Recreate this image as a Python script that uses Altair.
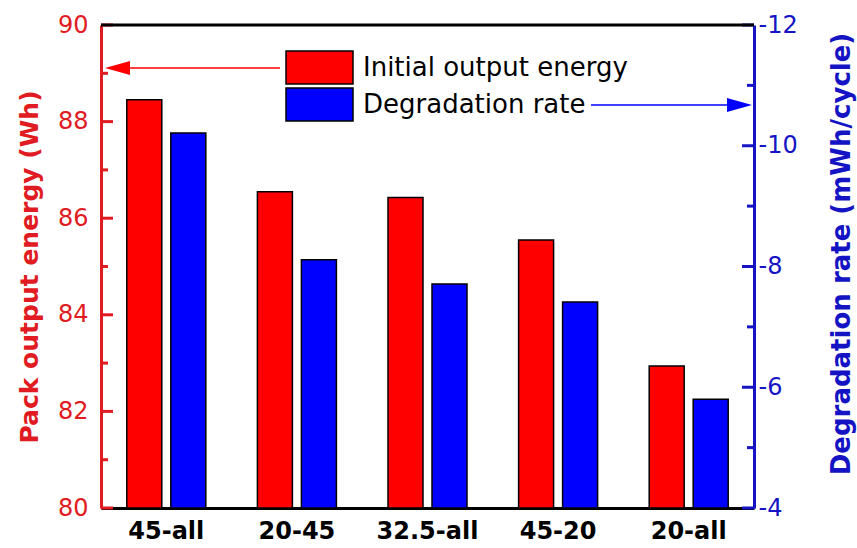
import altair as alt
import pandas as pd

# Test protocols and their measured values
categories = ["45-all", "20-45", "32.5-all", "45-20", "20-all"]
initial_energy = [88.45, 86.55, 86.43, 85.55, 82.94]      # Wh
degradation_rate = [-10.21, -8.11, -7.71, -7.41, -5.80]   # mWh/cycle

series_names = ["Initial output energy", "Degradation rate"]

# Axis tick positions (major ticks are labelled, minor ticks are not)
left_major = [80, 82, 84, 86, 88, 90]
left_minor = [81, 83, 85, 87, 89]
right_major = [-12, -10, -8, -6, -4]
right_minor = [-11, -9, -7, -5]

# Where the two axis-pointing arrows sit, in each axis' own units
red_arrow_level = 89.11
blue_arrow_level = -10.675

W, H = 653, 483
RED = "#FF0000"
BLUE = "#0000FF"
RED_AXIS = "#E01B22"
BLUE_AXIS = "#1414C4"
FONT = "DejaVu Sans"

df = pd.DataFrame({"protocol": categories, "energy": initial_energy, "rate": degradation_rate})

x_enc = alt.X(
    "protocol:N",
    sort=categories,
    scale=alt.Scale(paddingInner=0, paddingOuter=0),
    axis=alt.Axis(
        title=None, labelAngle=0, ticks=False, tickSize=0, labelPadding=11,
        labelFont=FONT, labelFontWeight="bold", labelFontSize=24, labelColor="black",
        domainColor="black", domainWidth=3, grid=False,
    ),
)


def red_scale():
    return alt.Scale(domain=[80, 90], zero=False, nice=False)


def blue_scale():
    return alt.Scale(domain=[-12, -4], reverse=True, zero=False, nice=False)


# ---- bars with their two value axes -------------------------------------
red_bars = alt.Chart(df).mark_bar(
    width=35, xOffset=-22, color=RED, stroke="black", strokeWidth=1.5
).encode(
    x=x_enc,
    y=alt.Y(
        "energy:Q", scale=red_scale(),
        axis=alt.Axis(
            orient="left", title="Pack output energy (Wh)", values=left_major, grid=False,
            ticks=False, tickSize=0, labelPadding=13,
            labelFont=FONT, labelFontSize=24, labelColor=RED_AXIS,
            domainColor=RED_AXIS, domainWidth=3,
            titleFont=FONT, titleFontSize=25, titleFontWeight="bold", titleColor=RED_AXIS,
            titleAngle=270, titleAlign="center", titleBaseline="middle",
            titleX=-72, titleY=H / 2,
        ),
    ),
    y2=alt.datum(80),
)

blue_bars = alt.Chart(df).mark_bar(
    width=35, xOffset=22, color=BLUE, stroke="black", strokeWidth=1.5
).encode(
    x=x_enc,
    y=alt.Y(
        "rate:Q", scale=blue_scale(),
        axis=alt.Axis(
            orient="right", title="Degradation rate (mWh/cycle)", values=right_major,
            labelExpr="datum.value + ''", grid=False,
            ticks=False, tickSize=0, labelPadding=4,
            labelFont=FONT, labelFontSize=24, labelColor=BLUE_AXIS,
            domainColor=BLUE_AXIS, domainWidth=3,
            titleFont=FONT, titleFontSize=26, titleFontWeight="bold", titleColor=BLUE_AXIS,
            titleAngle=270, titleAlign="center", titleBaseline="middle",
            titleX=87, titleY=H / 2 - 13,
        ),
    ),
    y2=alt.datum(-4),
)

# ---- inward ticks ---------------------------------------------------------
def tick_layer(values, scale, color, x_from, x_to):
    return alt.Chart(pd.DataFrame({"v": values})).mark_rule(
        color=color, strokeWidth=3
    ).encode(y=alt.Y("v:Q", scale=scale, axis=None), x=alt.value(x_from), x2=alt.value(x_to))


left_ticks_major = tick_layer(left_major, red_scale(), RED_AXIS, 0, 12)
left_ticks_minor = tick_layer(left_minor, red_scale(), RED_AXIS, 0, 7)
right_ticks_major = tick_layer(right_major, blue_scale(), BLUE_AXIS, W - 12, W)
right_ticks_minor = tick_layer(right_minor, blue_scale(), BLUE_AXIS, W - 7, W)

# ---- arrows pointing each series to its axis ------------------------------
one = alt.Chart(pd.DataFrame({"k": [0]}))

red_arrow_line = one.mark_rule(color=RED, strokeWidth=1.5).encode(
    x=alt.value(29), x2=alt.value(179),
    y=alt.YDatum(red_arrow_level, scale=red_scale(), axis=None),
)
red_arrow_head = one.mark_point(
    shape="M-1,0L1,-0.56L1,0.56Z", size=625, filled=True, color=RED, opacity=1, strokeWidth=0
).encode(x=alt.value(16.5), y=alt.YDatum(red_arrow_level, scale=red_scale(), axis=None))

blue_arrow_line = one.mark_rule(color=BLUE, strokeWidth=1.5).encode(
    x=alt.value(490), x2=alt.value(626),
    y=alt.YDatum(blue_arrow_level, scale=blue_scale(), axis=None),
)
blue_arrow_head = one.mark_point(
    shape="M1,0L-1,-0.56L-1,0.56Z", size=625, filled=True, color=BLUE, opacity=1, strokeWidth=0
).encode(x=alt.value(638.5), y=alt.YDatum(blue_arrow_level, scale=blue_scale(), axis=None))

# top frame line
top_frame = one.mark_rule(color="black", strokeWidth=3).encode(
    x=alt.value(0), x2=alt.value(W), y=alt.value(0)
)

# ---- legend --------------------------------------------------------------
legend_red_box = one.mark_rect(color=RED, stroke="black", strokeWidth=1.5).encode(
    x=alt.value(185), x2=alt.value(252), y=alt.value(26), y2=alt.value(59)
)
legend_blue_box = one.mark_rect(color=BLUE, stroke="black", strokeWidth=1.5).encode(
    x=alt.value(185), x2=alt.value(252), y=alt.value(63), y2=alt.value(96)
)
legend_red_text = one.mark_text(
    align="left", baseline="middle", font=FONT, fontSize=26, color="black"
).encode(x=alt.value(262), y=alt.value(43), text=alt.value(series_names[0]))
legend_blue_text = one.mark_text(
    align="left", baseline="middle", font=FONT, fontSize=26, color="black"
).encode(x=alt.value(262), y=alt.value(80), text=alt.value(series_names[1]))

chart = (
    alt.layer(
        red_bars, blue_bars,
        left_ticks_major, left_ticks_minor, right_ticks_major, right_ticks_minor,
        red_arrow_line, red_arrow_head, blue_arrow_line, blue_arrow_head,
        top_frame, legend_red_box, legend_blue_box, legend_red_text, legend_blue_text,
    )
    .resolve_scale(y="independent")
    .properties(
        width=W, height=H,
        autosize=alt.AutoSizeParams(type="none"),
        padding={"left": 101, "top": 25, "right": 103, "bottom": 40},
        background="white",
    )
    .configure_view(stroke=None)
)

chart.save("out.html", embed_options={"renderer": "svg", "actions": False})
